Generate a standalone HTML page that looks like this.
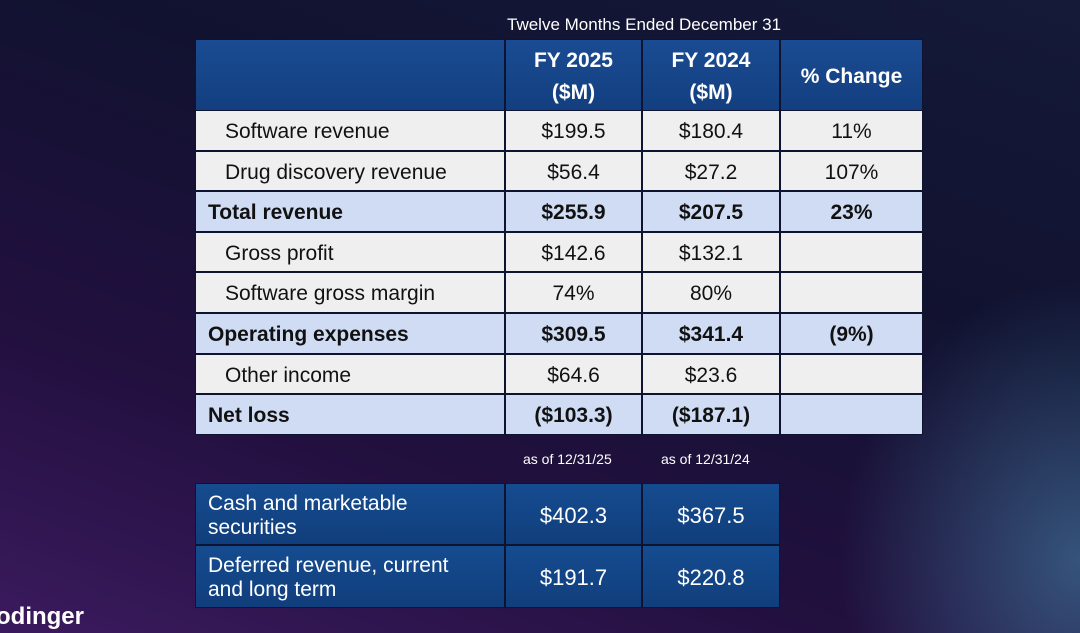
<!DOCTYPE html>
<html><head><meta charset="utf-8"><style>
html,body{margin:0;padding:0}
body{width:1080px;height:633px;overflow:hidden;position:relative;font-family:"Liberation Sans",sans-serif;
background:
radial-gradient(ellipse 240px 280px at 1080px 560px, rgba(80,150,190,0.5), rgba(80,150,190,0) 100%),
linear-gradient(200deg,#141a38 0%,#111230 35%,#22103f 70%,#3b1a5e 100%);}
.c{position:absolute;box-sizing:border-box;display:flex;align-items:center;justify-content:center;font-size:21px;color:#111;border:1.5px solid #0e1430;padding-top:3px}
.l{justify-content:flex-start}
.hd{background:linear-gradient(#1a4b92,#133f80);color:#fff;font-weight:bold;font-size:21px;text-align:center;line-height:32px}
.lt{background:#efefef}
.bl{background:#cfdcf4;font-weight:bold}
.dk{background:linear-gradient(#154c90,#113e7c);color:#fff;font-size:22px}
.t{position:absolute;color:#fff;font-size:16px}
</style></head><body>
<div class="t" style="left:507px;top:15px;font-size:17px">Twelve Months Ended December 31</div>
<div id="tbl"></div>
<div class="t" style="left:523px;top:451px;font-size:14px">as of 12/31/25</div>
<div class="t" style="left:661px;top:451px;font-size:14px">as of 12/31/24</div>
<div class="t" style="left:-4px;top:603px;font-size:24px;font-weight:bold">odinger</div>
<script>
const colX=[195,505,642,780,923];
const labels=["Software revenue","Drug discovery revenue","Total revenue","Gross profit","Software gross margin","Operating expenses","Other income","Net loss"];
const fy25=["$199.5","$56.4","$255.9","$142.6","74%","$309.5","$64.6","($103.3)"];
const fy24=["$180.4","$27.2","$207.5","$132.1","80%","$341.4","$23.6","($187.1)"];
const pct=["11%","107%","23%","","","(9%)","",""];
const boldRow=[0,0,1,0,0,1,0,1];
const bLabels=["Cash and marketable<br>securities","Deferred revenue, current<br>and long term"];
const b25=["$402.3","$191.7"];
const b24=["$367.5","$220.8"];
const root=document.getElementById('tbl');
function cell(x1,x2,y1,y2,cls,html,pad){
 const d=document.createElement('div');
 d.className='c '+cls;
 d.style.cssText=`left:${x1}px;top:${y1}px;width:${x2-x1}px;height:${y2-y1}px;`+(pad?`padding-left:${pad}px;`:'');
 d.innerHTML=html;root.appendChild(d);return d;
}
const hh=["","FY 2025<br>($M)","FY 2024<br>($M)","% Change"];
for(let i=0;i<4;i++){
 const d=cell(colX[i],colX[i+1],39,111,'hd',hh[i]);
 
 
}
const rowH=40.6;
for(let r=0;r<labels.length;r++){
 const y1=Math.round(110+r*rowH),y2=Math.round(110+(r+1)*rowH);
 const cls=boldRow[r]?'bl':'lt';
 const vals=[labels[r],fy25[r],fy24[r],pct[r]];
 for(let i=0;i<4;i++){
  const d=cell(colX[i],colX[i+1],y1,y2,cls+(i==0?' l':''),vals[i],i==0?(boldRow[r]?12:29):0);
  
  
 }
}
const by=[483,545,608];
for(let r=0;r<2;r++){
 const vals=[bLabels[r],b25[r],b24[r]];
 for(let i=0;i<3;i++){
  const d=cell(colX[i],colX[i+1],by[r],by[r+1],'dk'+(i==0?' l':''),vals[i],i==0?12:0);
  if(i==0){d.style.lineHeight='24px';d.style.fontSize='21px';}
  
  
 }
}
</script>
</body></html>
